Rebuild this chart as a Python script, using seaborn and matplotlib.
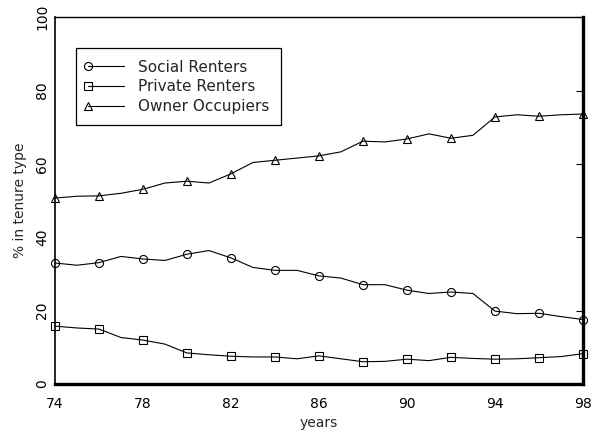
import numpy as np
import pandas as pd
import matplotlib
matplotlib.use("Agg")
import matplotlib.pyplot as plt
import seaborn as sns

years = list(range(74, 99))
social_renters = [33.0, 32.4, 33.1, 34.8, 34.1, 33.7, 35.4, 36.4, 34.4, 31.8, 31.0, 31.0,
                  29.5, 28.9, 27.1, 27.1, 25.6, 24.7, 25.1, 24.7, 19.9, 19.2, 19.3, 18.4, 17.6]
private_renters = [15.8, 15.3, 15.0, 12.7, 12.0, 10.9, 8.5, 8.0, 7.6, 7.4, 7.4, 6.9,
                   7.7, 6.9, 6.1, 6.2, 6.8, 6.4, 7.3, 7.0, 6.8, 6.9, 7.2, 7.5, 8.3]
owner_occupiers = [50.7, 51.2, 51.3, 52.0, 53.1, 54.8, 55.3, 54.8, 57.3, 60.4, 61.0, 61.6,
                   62.2, 63.3, 66.2, 66.0, 66.8, 68.2, 67.0, 67.8, 72.8, 73.4, 73.0, 73.4, 73.6]
series_names = ["Social Renters", "Private Renters", "Owner Occupiers"]
x_ticks = [74, 78, 82, 86, 90, 94, 98]
y_ticks = [0, 20, 40, 60, 80, 100]

df = pd.DataFrame({"year": years * 3,
                   "share": social_renters + private_renters + owner_occupiers,
                   "tenure": np.repeat(series_names, len(years))})

sns.set_style("white")
plt.rcParams["font.family"] = ["DejaVu Sans"]
plt.rcParams["font.size"] = 10

fig = plt.figure(figsize=(5.93, 4.40), dpi=100)
ax = fig.add_axes([0.0927, 0.127, 0.8903, 0.834])

markers = {"Social Renters": "o", "Private Renters": "s", "Owner Occupiers": "^"}
msizes = {"Social Renters": 5.8, "Private Renters": 5.3, "Owner Occupiers": 6.0}
handles = []
for name in series_names:
    sub = df[df["tenure"] == name]
    sns.lineplot(data=sub, x="year", y="share", ax=ax, color="black", lw=0.8,
                 marker=markers[name], markevery=2, markersize=msizes[name],
                 markerfacecolor="none", markeredgecolor="black", markeredgewidth=0.8,
                 clip_on=False, zorder=3)
    handles.append(ax.lines[-1])

ax.set_xlim(74, 98)
ax.set_ylim(0, 100)
ax.set_xticks(x_ticks)
ax.set_yticks(y_ticks)
ax.set_xticklabels([str(t) for t in x_ticks])
ax.set_yticklabels([str(t) for t in y_ticks], rotation=90, va="center")
ax.tick_params(axis="both", direction="in", length=5, width=0.8, color="black",
               labelsize=10, labelcolor="black")
ax.tick_params(axis="y", right=True, pad=4)
ax.tick_params(axis="x", pad=9)
ax.set_xlabel("years", fontsize=10, labelpad=4)
ax.set_ylabel("% in tenure type", fontsize=10, labelpad=6)

for side, w in {"left": 1.2, "top": 1.0, "bottom": 2.4, "right": 2.4}.items():
    ax.spines[side].set_visible(True)
    ax.spines[side].set_color("black")
    ax.spines[side].set_linewidth(w)

leg = ax.legend(handles, series_names, loc="upper left",
                bbox_to_anchor=(0.04, 0.915), frameon=True, fancybox=False,
                edgecolor="black", framealpha=1, fontsize=11, handlelength=2.4,
                borderpad=0.75, labelspacing=0.3, handletextpad=0.9, numpoints=1,
                borderaxespad=0.0)
leg.get_frame().set_linewidth(0.9)
for h in leg.legend_handles:
    h.set_markevery([0])

fig.savefig("out.png", dpi=100)
